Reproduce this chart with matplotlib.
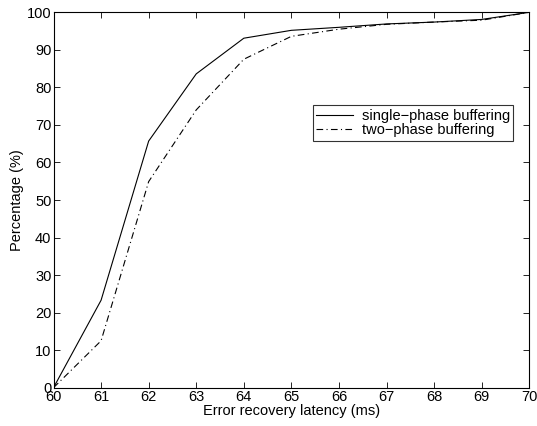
import matplotlib
matplotlib.use("Agg")
import matplotlib.pyplot as plt

plt.rcParams['font.family'] = ['Liberation Sans', 'DejaVu Sans']

latency = [60, 61, 62, 63, 64, 65, 66, 67, 68, 69, 70]
single_phase = [0, 23.3, 65.7, 83.6, 93.1, 95.2, 96.0, 96.9, 97.4, 98.1, 100]
two_phase = [0, 12.5, 54.9, 74.0, 87.5, 93.6, 95.5, 96.8, 97.4, 97.9, 100]
xticks = list(range(60, 71))
yticks = list(range(0, 101, 10))

fs = 10.5
fig = plt.figure(figsize=(5.37, 4.26), dpi=100)
ax = fig.add_axes([53.5/537, 1 - 387.7/426, (529.3-53.5)/537, (387.7-12.3)/426])

ax.plot(latency, single_phase, color='black', linewidth=0.8, linestyle='-',
        label='single\u2212phase buffering')
ax.plot(latency, two_phase, color='black', linewidth=0.8, linestyle=(0, (6, 3, 1, 3)),
        label='two\u2212phase buffering')

ax.set_xlim(60, 70)
ax.set_ylim(0, 100)
ax.set_xticks(xticks)
ax.set_yticks(yticks)
ax.tick_params(direction='in', top=True, right=True, length=4, width=0.6, labelsize=fs)
ax.tick_params(axis='x', pad=2)
ax.tick_params(axis='y', pad=1.5)
for s in ax.spines.values():
    s.set_linewidth(0.8)

ax.set_xlabel('Error recovery latency (ms)', fontsize=fs, labelpad=0)
ax.set_ylabel('Percentage (%)', fontsize=fs, labelpad=2)

leg = ax.legend(loc='upper left', bbox_to_anchor=((312.7-53.5)/475.8, 1 - (105-12.3)/375.4),
                fontsize=fs, frameon=True, fancybox=False, edgecolor='black',
                borderpad=0.25, labelspacing=0.05, handlelength=2.5, handletextpad=0.6,
                borderaxespad=0)
leg.get_frame().set_linewidth(0.8)

fig.savefig('out.png', dpi=100)
